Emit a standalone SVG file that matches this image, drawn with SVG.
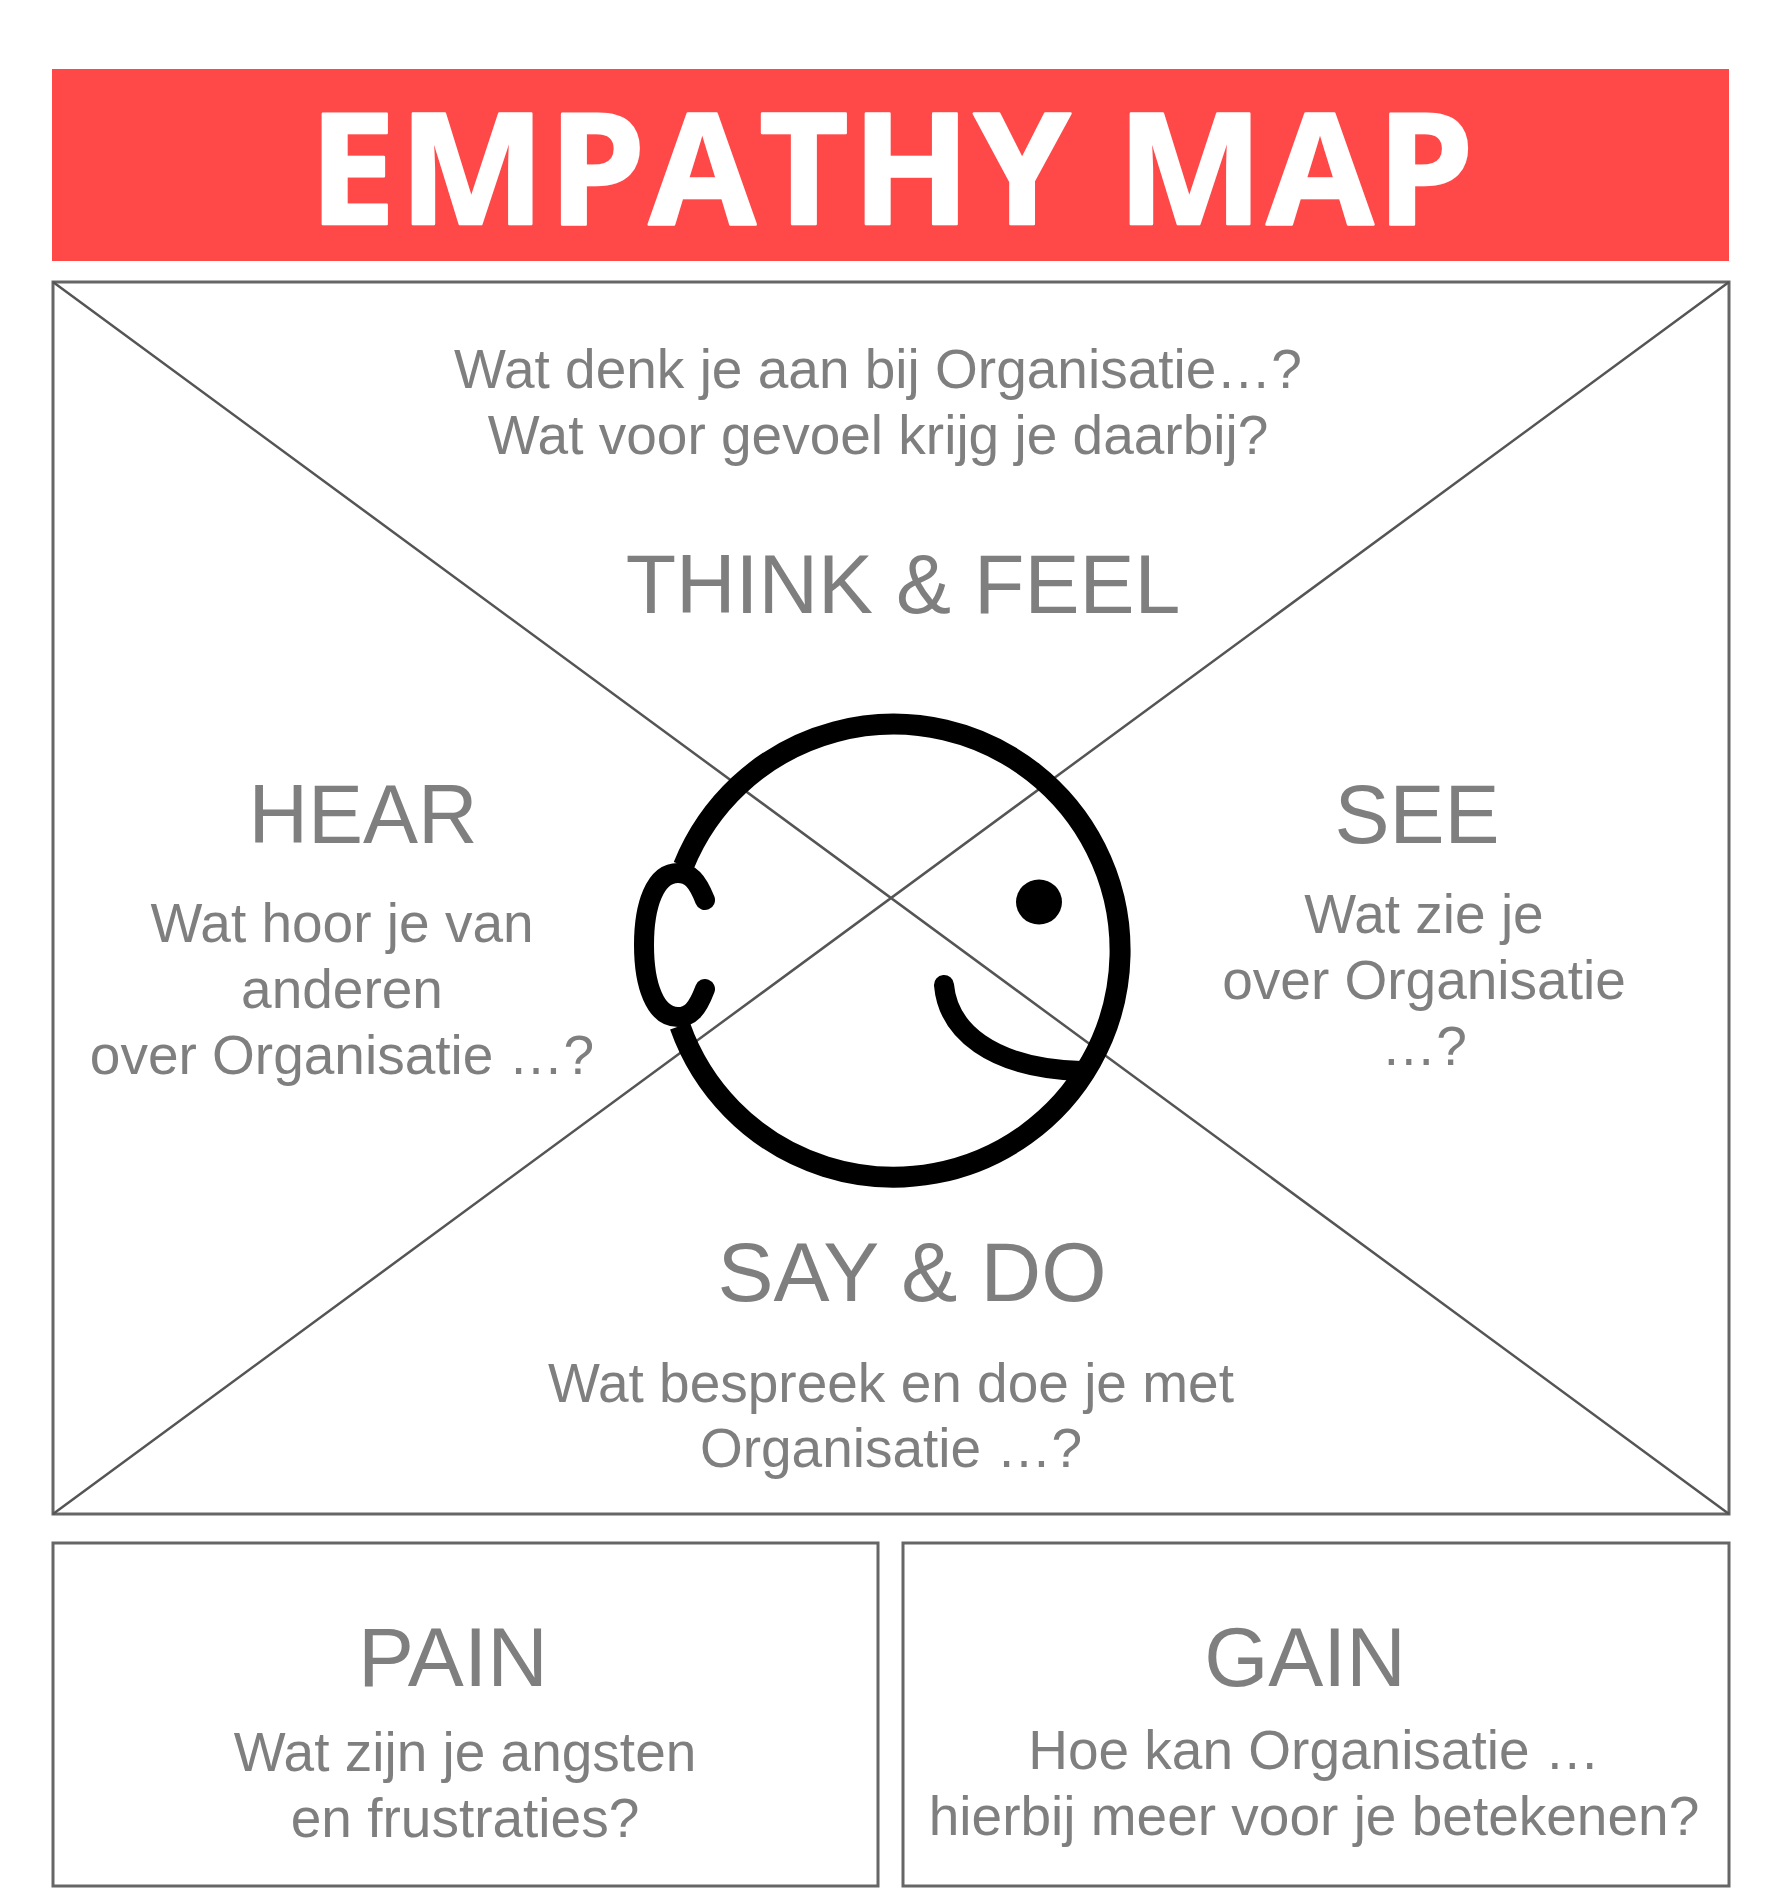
<svg xmlns="http://www.w3.org/2000/svg" width="1780" height="1888" viewBox="0 0 1780 1888">
<style>
.t{font-family:"Liberation Sans",Arial,sans-serif;fill:#7f7f7f;text-anchor:middle}
.b{font-size:55px}.h{font-size:82.5px}.w{font-size:84px}
.box{fill:#fff;stroke:#666;stroke-width:3}
.face{fill:none;stroke:#000;stroke-width:20;stroke-linecap:round}
</style>
<rect width="1780" height="1888" fill="#fff"/>
<g id="title"><rect x="52" y="69" width="1677" height="192" fill="#ff4848"/>
<text x="893" y="224" font-family="'Open Sans',sans-serif" font-weight="700" font-size="155" letter-spacing="3.2" fill="#fff" stroke="#fff" stroke-width="2.5" stroke-linejoin="round" text-anchor="middle">EMPATHY MAP</text></g>
<g id="map"><rect class="box" x="53" y="282" width="1676" height="1232"/></g>
<g id="connectors"><path d="M53 282L1729 1514M1729 282L53 1514" stroke="#555" stroke-width="2.5" fill="none"/></g>
<g id="head">
<path d="M683.500 866A226.500 226.500 0 1 1 680 1026" fill="none" stroke="#000" stroke-width="21"/>
<path class="face" d="M705 900C697 880 690 873 678 873C655 873 644 905 644 945C644 985 655 1017 678 1017C690 1017 697 1010 705 989"/>
<path class="face" d="M944 985C948 1030 990 1068 1081 1071"/>
<ellipse cx="1039" cy="902" rx="23" ry="22.500" fill="#000"/>
</g>
<g id="think"><text class="t b" x="878" y="388">Wat denk je aan bij Organisatie…?</text><text class="t b" x="878" y="454">Wat voor gevoel krijg je daarbij?</text><text class="t h" x="903" y="613">THINK &amp; FEEL</text></g>
<g id="hear"><text class="t h" x="363" y="843">HEAR</text><text class="t b" x="342" y="942">Wat hoor je van</text><text class="t b" x="342" y="1008">anderen</text><text class="t b" x="342" y="1074">over Organisatie …?</text></g>
<g id="see"><text class="t h" x="1417" y="843">SEE</text><text class="t b" x="1424" y="933">Wat zie je</text><text class="t b" x="1424" y="999">over Organisatie</text><text class="t b" x="1424" y="1065">…?</text></g>
<g id="say"><text class="t w" x="912" y="1301">SAY &amp; DO</text><text class="t b" x="891" y="1402">Wat bespreek en doe je met</text><text class="t b" x="891" y="1467">Organisatie …?</text></g>
<g id="pain"><rect class="box" x="53" y="1543" width="825" height="343"/><text class="t w" x="453" y="1686">PAIN</text><text class="t b" x="465" y="1771">Wat zijn je angsten</text><text class="t b" x="465" y="1837">en frustraties?</text></g>
<g id="gain"><rect class="box" x="903" y="1543" width="826" height="343"/><text class="t h" x="1305" y="1686">GAIN</text><text class="t b" x="1314" y="1769">Hoe kan Organisatie …</text><text class="t b" x="1314" y="1835">hierbij meer voor je betekenen?</text></g>
</svg>
